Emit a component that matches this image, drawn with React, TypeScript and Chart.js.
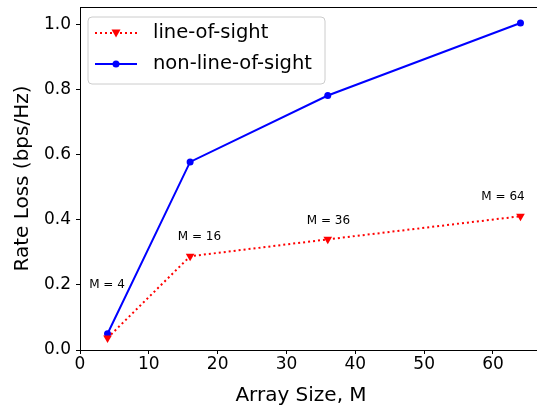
import React, { useEffect, useRef } from "react";
import { Chart, registerables } from "chart.js";

Chart.register(...registerables);

const ARRAY_SIZES = [4, 16, 36, 64];
const LOS_VALUES = [0.037, 0.288, 0.34, 0.411];
const NLOS_VALUES = [0.05, 0.578, 0.782, 1.005];
const X_TICKS = [0, 10, 20, 30, 40, 50, 60];
const Y_TICKS = [0, 0.2, 0.4, 0.6, 0.8, 1.0];
const ANNOT_TEXT = ["M = 4", "M = 16", "M = 36", "M = 64"];
const ANNOT_X = [3.92, 17.36, 36.1, 61.46];
const ANNOT_Y = [0.199, 0.347, 0.396, 0.472];
const LEGEND_LABELS = ["line-of-sight", "non-line-of-sight"];
const X_TITLE = "Array Size, M";
const Y_TITLE = "Rate Loss (bps/Hz)";

const FONT = "'DejaVu Sans', sans-serif";

const overlayPlugin = {
  id: "overlay",
  afterDatasetsDraw(chart: any) {
    const ctx = chart.ctx;
    const { left, right, top } = chart.chartArea;
    const xs = chart.scales.x;
    const ys = chart.scales.y;
    ctx.save();
    // top spine
    ctx.strokeStyle = "#000";
    ctx.lineWidth = 1;
    ctx.beginPath();
    ctx.moveTo(left, top + 0.5);
    ctx.lineTo(right, top + 0.5);
    ctx.stroke();
    // x axis title
    ctx.fillStyle = "#000";
    ctx.font = `20px ${FONT}`;
    ctx.textAlign = "center";
    ctx.textBaseline = "middle";
    ctx.fillText(X_TITLE, 301, 396);
    // annotations
    ctx.font = `12px ${FONT}`;
    ANNOT_TEXT.forEach((t, i) => {
      ctx.fillText(t, xs.getPixelForValue(ANNOT_X[i]), ys.getPixelForValue(ANNOT_Y[i]));
    });
    // legend
    const bx = 88, by = 17, bw = 237, bh = 67, r = 4;
    ctx.beginPath();
    ctx.moveTo(bx + r, by);
    ctx.lineTo(bx + bw - r, by);
    ctx.quadraticCurveTo(bx + bw, by, bx + bw, by + r);
    ctx.lineTo(bx + bw, by + bh - r);
    ctx.quadraticCurveTo(bx + bw, by + bh, bx + bw - r, by + bh);
    ctx.lineTo(bx + r, by + bh);
    ctx.quadraticCurveTo(bx, by + bh, bx, by + bh - r);
    ctx.lineTo(bx, by + r);
    ctx.quadraticCurveTo(bx, by, bx + r, by);
    ctx.closePath();
    ctx.fillStyle = "rgba(255,255,255,0.8)";
    ctx.fill();
    ctx.strokeStyle = "#cccccc";
    ctx.lineWidth = 1;
    ctx.stroke();

    const rows = [33, 64];
    // LOS sample
    ctx.strokeStyle = "#ff0000";
    ctx.lineWidth = 2;
    ctx.setLineDash([2, 3]);
    ctx.beginPath();
    ctx.moveTo(95, rows[0]);
    ctx.lineTo(137, rows[0]);
    ctx.stroke();
    ctx.setLineDash([]);
    ctx.fillStyle = "#ff0000";
    ctx.beginPath();
    ctx.moveTo(116 - 4.5, rows[0] - 3.5);
    ctx.lineTo(116 + 4.5, rows[0] - 3.5);
    ctx.lineTo(116, rows[0] + 4.5);
    ctx.closePath();
    ctx.fill();
    // NLOS sample
    ctx.strokeStyle = "#0000ff";
    ctx.lineWidth = 2;
    ctx.beginPath();
    ctx.moveTo(95, rows[1]);
    ctx.lineTo(137, rows[1]);
    ctx.stroke();
    ctx.fillStyle = "#0000ff";
    ctx.beginPath();
    ctx.arc(116, rows[1], 3.5, 0, Math.PI * 2);
    ctx.fill();

    ctx.fillStyle = "#000";
    ctx.font = `19.5px ${FONT}`;
    ctx.textAlign = "left";
    ctx.textBaseline = "middle";
    LEGEND_LABELS.forEach((t, i) => ctx.fillText(t, 153, rows[i]));
    ctx.restore();
  },
};

function zeroPad(s: any) {
  s.paddingTop = 0;
  s.paddingBottom = 0;
  s.paddingLeft = 0;
  s.paddingRight = 0;
}

export default function App() {
  const ref = useRef<HTMLCanvasElement>(null);
  useEffect(() => {
    document.body.style.margin = "0";
    const canvas = ref.current!;
    const chart = new Chart(canvas, {
      type: "line",
      data: {
        datasets: [
          {
            label: LEGEND_LABELS[0],
            data: ARRAY_SIZES.map((x, i) => ({ x, y: LOS_VALUES[i] })),
            borderColor: "#ff0000",
            backgroundColor: "#ff0000",
            borderWidth: 2,
            borderDash: [2, 3],
            pointStyle: "triangle",
            rotation: 180,
            pointRadius: 5,
            pointBorderWidth: 0,
            fill: false,
          },
          {
            label: LEGEND_LABELS[1],
            data: ARRAY_SIZES.map((x, i) => ({ x, y: NLOS_VALUES[i] })),
            borderColor: "#0000ff",
            backgroundColor: "#0000ff",
            borderWidth: 2,
            pointStyle: "circle",
            pointRadius: 3.5,
            pointBorderWidth: 0,
            fill: false,
          },
        ],
      },
      options: {
        animation: false,
        responsive: false,
        devicePixelRatio: 1,
        layout: { autoPadding: false, padding: { top: 7, right: 0, left: 0, bottom: 0 } },
        plugins: { legend: { display: false }, tooltip: { enabled: false } },
        scales: {
          x: {
            type: "linear",
            min: 0,
            max: 66.4,
            afterBuildTicks: (s: any) => {
              s.ticks = X_TICKS.map((v) => ({ value: v }));
            },
            afterFit: (s: any) => {
              s.height = 60;
              zeroPad(s);
            },
            grid: {
              drawOnChartArea: false,
              drawTicks: true,
              tickLength: 4,
              tickColor: "#000",
              tickWidth: 1,
            },
            border: { display: true, color: "#000", width: 1 },
            ticks: {
              color: "#000",
              font: { family: FONT, size: 17, lineHeight: 1.2 },
              padding: 0,
              maxRotation: 0,
              autoSkip: false,
            },
            title: { display: false },
          },
          y: {
            type: "linear",
            min: 0,
            max: 1.054,
            afterBuildTicks: (s: any) => {
              s.ticks = Y_TICKS.map((v) => ({ value: v }));
            },
            afterFit: (s: any) => {
              s.width = 80;
              zeroPad(s);
            },
            grid: {
              drawOnChartArea: false,
              drawTicks: true,
              tickLength: 4,
              tickColor: "#000",
              tickWidth: 1,
            },
            border: { display: true, color: "#000", width: 1 },
            ticks: {
              color: "#000",
              font: { family: FONT, size: 17, lineHeight: 1.2 },
              padding: 5,
              callback: (v: any) => Number(v).toFixed(1),
            },
            title: {
              display: true,
              text: Y_TITLE,
              color: "#000",
              font: { family: FONT, size: 20, lineHeight: 1.2 },
              padding: { top: 11, bottom: 0 },
            },
          },
        },
      },
      plugins: [overlayPlugin],
    });
    return () => chart.destroy();
  }, []);
  return (
    <div style={{ width: 537, height: 410 }}>
      <canvas ref={ref} width={537} height={410} style={{ display: "block" }} />
    </div>
  );
}
